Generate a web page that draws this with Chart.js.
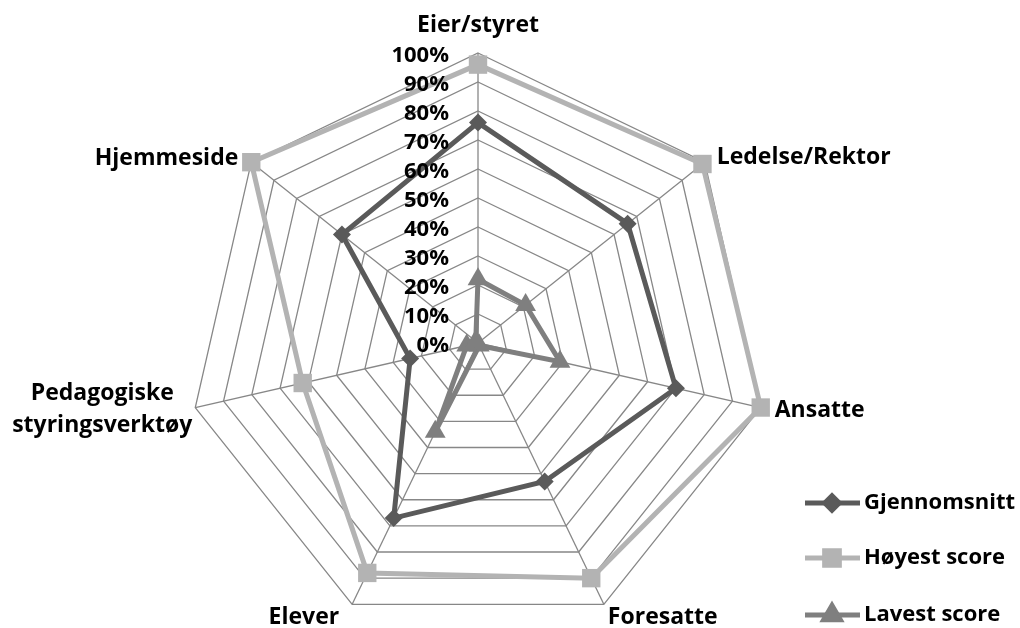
<!DOCTYPE html>
<html>
<head>
<meta charset="utf-8">
<script src="https://cdn.jsdelivr.net/npm/chart.js@4/dist/chart.umd.min.js"></script>
<style>
  html, body { margin: 0; padding: 0; background: #fff; overflow: hidden; }
  #wrap { position: relative; width: 1020px; height: 640px; }
</style>
</head>
<body>
<div id="wrap"><canvas id="radar"></canvas></div>
<script>
// categories (axes) and series
const categories = ['Eier/styret', 'Ledelse/Rektor', 'Ansatte', 'Foresatte', 'Elever',
                    ['Pedagogiske', 'styringsverktøy'], 'Hjemmeside'];
const gjennomsnitt = [0.76, 0.66, 0.70, 0.53, 0.67, 0.24, 0.60];
const hoyest = [0.96, 0.99, 1.00, 0.90, 0.88, 0.62, 1.00];
const lavest = [0.22, 0.21, 0.29, 0.01, 0.34, 0.04, 0.01];
const tickLabels = ['0%', '10%', '20%', '30%', '40%', '50%', '60%', '70%', '80%', '90%', '100%'];
const seriesNames = ['Gjennomsnitt', 'Høyest score', 'Lavest score'];

const FONT = '"Open Sans", Lato, sans-serif';

// label offsets from each outer vertex: [dx, dy, align, baseline]
const labelPlace = [
  [0, -21, 'center', 'alphabetic'],
  [12, -5, 'left', 'middle'],
  [14, 3, 'left', 'middle'],
  [4, 13, 'left', 'middle'],
  [-13, 13, 'right', 'middle'],
  [-93, -14, 'center', 'middle'],
  [-13, -4, 'right', 'middle']
];

const labelsPlugin = {
  id: 'labelsPlugin',
  afterDraw(chart) {
    const ctx = chart.ctx;
    const r = chart.scales.r;
    ctx.save();
    ctx.fillStyle = '#000';

    // tick labels to the left of the vertical axis
    ctx.font = 'bold 22px ' + FONT;
    ctx.textAlign = 'right';
    ctx.textBaseline = 'middle';
    tickLabels.forEach((t, i) => {
      const d = r.getDistanceFromCenterForValue(i / 10);
      ctx.fillText(t, r.xCenter - 29, r.yCenter - d + 3);
    });

    // axis names
    ctx.font = 'bold 23px ' + FONT;
    categories.forEach((c, i) => {
      const p = r.getPointPosition(i, r.drawingArea);
      const [dx, dy, al, bl] = labelPlace[i];
      ctx.textAlign = al;
      ctx.textBaseline = bl;
      const lines = Array.isArray(c) ? c : [c];
      lines.forEach((ln, k) => ctx.fillText(ln, p.x + dx, p.y + dy + k * 32));
    });

    // legend at bottom right
    const rows = [503, 558, 615];
    chart.data.datasets.forEach((ds, i) => {
      const y = rows[i];
      ctx.strokeStyle = ds.borderColor;
      ctx.lineWidth = 5;
      ctx.beginPath();
      ctx.moveTo(805, y);
      ctx.lineTo(860, y);
      ctx.stroke();
      Chart.helpers.drawPoint(ctx, {
        pointStyle: ds.pointStyle, rotation: 0,
        radius: ds.pointRadius * 0.8, borderWidth: 1
      }, 832, y);
      ctx.fillStyle = ds.backgroundColor;
      ctx.fill();
      ctx.fillStyle = '#000';
      ctx.font = 'bold 22px ' + FONT;
      ctx.textAlign = 'left';
      ctx.textBaseline = 'middle';
      ctx.fillText(ds.label, 864, y);
    });
    ctx.restore();
  }
};

new Chart(document.getElementById('radar'), {
  type: 'radar',
  data: {
    labels: categories,
    datasets: [
      { label: seriesNames[0], data: gjennomsnitt, borderColor: '#5a5a5a', backgroundColor: '#5a5a5a',
        borderWidth: 5, pointStyle: 'rectRot', pointRadius: 9, pointBorderWidth: 0,
        fill: false, tension: 0 },
      { label: seriesNames[1], data: hoyest, borderColor: '#b3b3b3', backgroundColor: '#b3b3b3',
        borderWidth: 5, pointStyle: 'rect', pointRadius: 13, pointBorderWidth: 0,
        fill: false, tension: 0 },
      { label: seriesNames[2], data: lavest, borderColor: '#7f7f7f', backgroundColor: '#7f7f7f',
        borderWidth: 5, pointStyle: 'triangle', pointRadius: 12, pointBorderWidth: 0,
        fill: false, tension: 0 }
    ]
  },
  options: {
    responsive: true,
    maintainAspectRatio: false,
    animation: false,
    layout: { padding: { left: 178, right: 242, top: 53, bottom: 7 } },
    plugins: { legend: { display: false }, tooltip: { enabled: false } },
    scales: {
      r: {
        min: 0, max: 1,
        ticks: { display: false, stepSize: 0.1 },
        pointLabels: { display: false },
        grid: { color: '#878787', lineWidth: 1.3 },
        angleLines: { color: '#878787', lineWidth: 1.3 }
      }
    }
  },
  plugins: [labelsPlugin]
});
</script>
</body>
</html>
